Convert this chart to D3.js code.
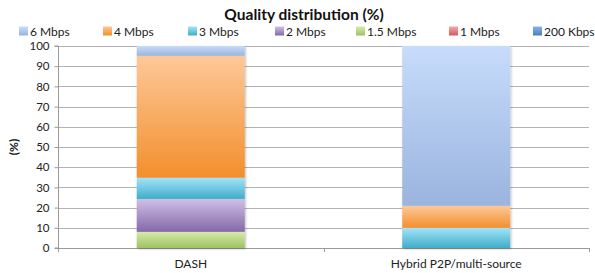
<!DOCTYPE html>
<html><head><meta charset="utf-8">
<script src="https://cdn.jsdelivr.net/npm/d3@7"></script>
<style>body{margin:0;background:#fff}svg{display:block;font-family:Lato,"Open Sans",sans-serif}</style>
</head><body><svg id="c" width="595" height="273"></svg>
<script>
const categories = ["DASH", "Hybrid P2P/multi-source"];
const seriesNames = ["200 Kbps", "1 Mbps", "1.5 Mbps", "2 Mbps", "3 Mbps", "4 Mbps", "6 Mbps"];
const legendOrder = ["6 Mbps", "4 Mbps", "3 Mbps", "2 Mbps", "1.5 Mbps", "1 Mbps", "200 Kbps"];
const v200k = [0, 0];
const v1m = [0, 0];
const v15m = [8, 0];
const v2m = [16.3, 0];
const v3m = [10.5, 10];
const v4m = [60.4, 10.9];
const v6m = [4.8, 79.1];
const yTicks = [0,10,20,30,40,50,60,70,80,90,100];
const colorTop = {"200 Kbps":"#8db2e6","1 Mbps":"#f3aaa9","1.5 Mbps":"#d6ebaa","2 Mbps":"#cfc0e6","3 Mbps":"#a3e4f8","4 Mbps":"#fdc89a","6 Mbps":"#c7dcfb"};
const colorBot = {"200 Kbps":"#4a7ebb","1 Mbps":"#d35b58","1.5 Mbps":"#9dc263","2 Mbps":"#8568a9","3 Mbps":"#3fadc9","4 Mbps":"#f38f2c","6 Mbps":"#9ab4de"};

const values = {"200 Kbps":v200k,"1 Mbps":v1m,"1.5 Mbps":v15m,"2 Mbps":v2m,"3 Mbps":v3m,"4 Mbps":v4m,"6 Mbps":v6m};
const table = categories.map((c,i)=>{const o={cat:c}; seriesNames.forEach(s=>o[s]=values[s][i]); return o;});

const svg = d3.select("#c");
const m = {l:58, r:589, t:46, b:248};
const x = d3.scaleBand().domain(categories).range([m.l, m.r]).paddingInner(0.593).paddingOuter(0.2965);
const y = d3.scaleLinear().domain([0,100]).range([m.b, m.t]);

const defs = svg.append("defs");
seriesNames.forEach((s,i)=>{
  const g = defs.append("linearGradient").attr("id","g"+i).attr("x1",0).attr("y1",0).attr("x2",0).attr("y2",1);
  g.append("stop").attr("offset","0%").attr("stop-color",colorTop[s]);
  g.append("stop").attr("offset","100%").attr("stop-color",colorBot[s]);
});
const f = defs.append("filter").attr("id","sh").attr("x","-10%").attr("y","-10%").attr("width","130%").attr("height","130%");
f.append("feDropShadow").attr("dx",1).attr("dy",1).attr("stdDeviation",1).attr("flood-color","#000").attr("flood-opacity",0.25);

// gridlines
svg.append("g").selectAll("line").data(yTicks.filter(d=>d>0)).join("line")
  .attr("x1",m.l).attr("x2",m.r).attr("y1",d=>Math.round(y(d))+0.5).attr("y2",d=>Math.round(y(d))+0.5)
  .attr("stroke","#b3b3b3").attr("stroke-width",1);

// y axis
const ya = svg.append("g").attr("transform",`translate(${m.l+0.5},0)`)
  .call(d3.axisLeft(y).tickValues(yTicks).tickSize(4).tickPadding(5));
ya.select(".domain").attr("stroke","#9a9a9a").attr("d",`M-4,${y(100)}H0V${y(0)}H-4`);
ya.selectAll(".tick line").attr("stroke","#9a9a9a");
ya.selectAll(".tick text").attr("font-size",11.5).attr("fill","#222").attr("font-family","Lato,'Open Sans',sans-serif");

// x axis
svg.append("line").attr("x1",m.l).attr("x2",m.r).attr("y1",m.b+0.5).attr("y2",m.b+0.5).attr("stroke","#9a9a9a");
svg.append("g").selectAll("line").data([m.l, (m.l+m.r)/2, m.r]).join("line")
  .attr("x1",d=>Math.round(d)+0.5).attr("x2",d=>Math.round(d)+0.5).attr("y1",m.b).attr("y2",m.b+4).attr("stroke","#9a9a9a");

// bars
const stack = d3.stack().keys(seriesNames)(table);
const bars = svg.append("g").attr("filter","url(#sh)");
stack.forEach((layer,i)=>{
  bars.selectAll(null).data(layer.filter(d=>d[1]-d[0]>0)).join("rect")
    .attr("x",d=>x(d.data.cat)).attr("width",x.bandwidth())
    .attr("y",d=>y(d[1])).attr("height",d=>y(d[0])-y(d[1]))
    .attr("fill",`url(#g${i})`);
});

// category labels
svg.append("g").selectAll("text").data(categories).join("text")
  .attr("x",d=>x(d)+x.bandwidth()/2).attr("y",268).attr("text-anchor","middle")
  .attr("font-size",12).attr("fill","#222").text(d=>d);

// title
svg.append("text").attr("x",304).attr("y",19.5).attr("text-anchor","middle")
  .attr("font-size",15.5).attr("font-weight","bold").attr("fill","#111").text("Quality distribution (%)");

// y label
svg.append("text").attr("transform","translate(18,147) rotate(-90)").attr("text-anchor","middle")
  .attr("font-size",12).attr("font-weight","bold").attr("fill","#111").text("(%)");

// legend
const legX = [19, 103, 188, 275, 356, 449, 533];
const lg = svg.append("g").selectAll("g").data(legendOrder).join("g")
  .attr("transform",(d,i)=>`translate(${legX[i]},26.5)`);
lg.append("rect").attr("width",9).attr("height",9).attr("fill",d=>`url(#g${seriesNames.indexOf(d)})`);
lg.append("text").attr("x",11).attr("y",9).attr("font-size",12).attr("fill","#222").text(d=>d);
</script></body></html>
